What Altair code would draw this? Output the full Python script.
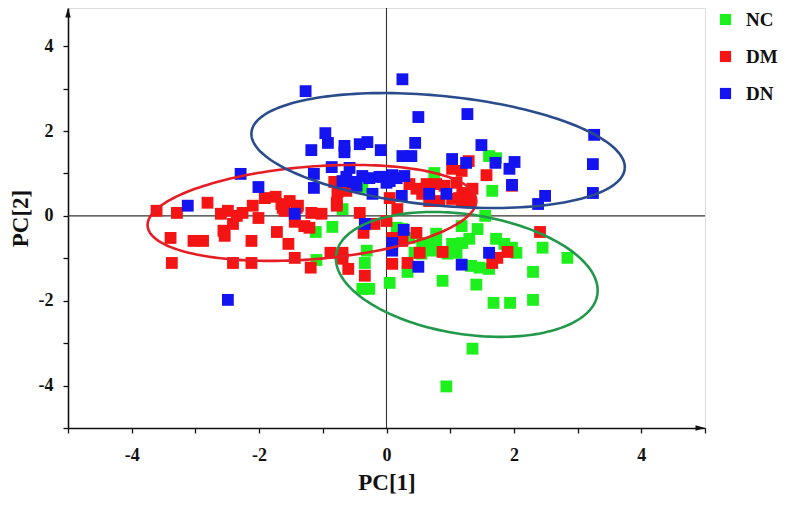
import altair as alt
import pandas as pd
import numpy as np

# ---- data ----
groups = ["NC", "DM", "DN"]
point_colors = ["#1EF01E", "#F51414", "#1414F0"]
ellipse_colors = ["#22994A", "#E41E24", "#2B4C8C"]

nc_x = [-0.69, -0.85, -1.11, -1.10, -0.31, -0.34, -0.38, -0.27, 0.05, 0.16,
        0.75, 1.61, 1.72, 1.66, 1.55, 1.43, 1.18, 0.78, 0.25, 0.63,
        0.71, 0.55, 0.44, 1.03, 1.19, 1.10, 0.96, 1.72, 1.85, 1.97,
        2.04, 1.33, 1.46, 1.61, 0.33, 0.88, 1.41, 1.68, 1.94, 2.30,
        2.30, 2.45, 2.84, 1.35, 0.94, 1.30, 0.78, 0.56, 0.36, -0.38]
nc_y = [0.16, -0.26, -0.38, -1.04, -0.82, -1.11, -1.72, -1.72, -1.58, -0.28,
        1.01, 1.41, 1.36, 0.59, 0.00, -0.31, -0.24, -0.42, -0.31, -0.64,
        -0.82, -0.89, -0.87, -0.66, -0.64, -0.87, -0.89, -0.54, -0.66, -0.75,
        -0.87, -1.18, -1.22, -1.25, -1.32, -1.53, -1.62, -2.05, -2.05, -1.98,
        -1.32, -0.75, -0.99, -3.13, -4.02, -0.54, -0.59, -0.66, -0.52, 0.68]

dm_x = [-3.61, -3.29, -2.81, -2.60, -2.49, -2.35, -2.26, -2.10, -2.01, -1.91,
        -1.74, -1.63, -1.52, -1.39, -1.18, -1.02, -0.82, -0.78, -0.77, -0.63,
        -0.42, -2.41, -2.56, -1.72, -1.44, -1.21, -3.39, -3.03, -2.88, -2.12,
        -1.54, -3.37, -2.41, -2.12, -1.44, -1.19, -0.88, -0.69, -0.69, -0.60,
        -0.34, -0.36, -0.19, -1.65, -1.41, -1.29, -0.78, -2.54, 1.29, 1.03,
        1.18, 1.57, 0.36, 0.47, 0.63, 0.78, 0.91, 1.10, 1.19, 1.30,
        1.30, 1.18, 1.03, 0.83, 0.67, 0.56, 0.05, 0.17, 0.00, 0.47,
        2.41, 0.25, 0.09, 1.90, 1.74, 1.66, 0.88, 0.52, 0.33, 0.09,
        1.97, -1.60, 1.35, 1.14]
dm_y = [0.12, 0.07, 0.31, 0.05, 0.12, 0.00, 0.07, 0.24, -0.05, 0.42,
        0.45, 0.19, 0.35, 0.24, 0.07, 0.05, 0.80, 0.31, 0.56, 0.59,
        0.07, -0.19, -0.35, -0.38, -0.14, -0.28, -0.52, -0.59, -0.59, -0.59,
        -0.66, -1.11, -1.11, -1.11, -0.99, -1.22, -0.87, -0.87, -1.01, -1.25,
        -1.41, -0.40, -0.19, 0.28, 0.19, -0.24, 0.24, -0.47, 1.29, 1.11,
        1.06, 0.96, 0.75, 0.64, 0.75, 0.75, 0.71, 0.78, 0.54, 0.52,
        0.35, 0.35, 0.40, 0.35, 0.35, 0.52, 0.42, 0.16, -0.12, -0.40,
        -0.38, -0.59, -0.52, -0.85, -0.99, -1.11, -0.85, -0.87, -1.11, -1.13,
        0.71, 0.12, 0.64, 0.42]

dn_x = [-1.27, -0.96, -0.92, -1.18, -0.66, -0.66, -0.42, -0.30, -0.09, -0.86,
        -0.58, -1.14, -2.29, -2.01, -1.14, -3.12, -1.44, -2.49, -0.63, -0.53,
        -0.47, -0.69, -0.38, -0.27, -0.11, 0.05, -0.22, 0.16, 0.25, 0.50,
        1.27, 0.45, 0.25, 0.39, 1.49, 1.03, 1.25, 1.71, 2.01, 1.93,
        1.97, 3.26, 3.24, 3.24, 2.49, 2.38, 0.24, 0.67, 0.94, 0.09,
        0.28, -0.06, 0.00, -0.34, 0.27, 0.09, 0.09, 0.50, 1.18, 1.61]
dn_y = [2.94, 1.95, 1.72, 1.55, 1.65, 1.50, 1.69, 1.74, 1.55, 1.15,
        1.13, 0.99, 0.99, 0.68, 0.66, 0.24, 0.05, -1.98, 0.92, 0.80,
        0.71, 0.82, 0.94, 0.89, 0.92, 0.82, 0.52, 0.89, 3.22, 2.33,
        2.40, 1.72, 1.41, 1.41, 1.67, 1.34, 1.25, 1.25, 1.27, 1.11,
        0.73, 1.91, 1.22, 0.54, 0.47, 0.28, 0.47, 0.52, 0.52, 0.96,
        0.94, 0.92, 0.78, -0.19, -0.33, -0.64, -0.82, -1.20, -1.15, -0.87]

# confidence ellipses: centre and two conjugate half-axis vectors (data units)
ell_cx = [1.26, -1.17, 0.81]
ell_cy = [-1.38, 0.07, 1.54]
ell_ux = [2.05, 2.58, 2.93]
ell_uy = [-0.476, 0.31, -0.43]
ell_vx = [0.144, -0.058, 0.083]
ell_vy = [1.393, 1.088, 1.285]

x_domain = [-5, 5]
y_domain = [-5, 4.9]
x_ticks = list(range(-5, 6))
y_ticks = list(range(-5, 5))

# ---- build tables ----
pts = pd.concat([
    pd.DataFrame({"x": nc_x, "y": nc_y, "group": "NC"}),
    pd.DataFrame({"x": dm_x, "y": dm_y, "group": "DM"}),
    pd.DataFrame({"x": dn_x, "y": dn_y, "group": "DN"}),
], ignore_index=True)
pts["ord"] = range(len(pts))

t = np.linspace(0, 2 * np.pi, 181)
ell_frames = []
for i, g in enumerate(groups):
    ell_frames.append(pd.DataFrame({
        "x": ell_cx[i] + np.cos(t) * ell_ux[i] + np.sin(t) * ell_vx[i],
        "y": ell_cy[i] + np.cos(t) * ell_uy[i] + np.sin(t) * ell_vy[i],
        "i": np.arange(len(t)),
        "group": g,
    }))

FONT = "Liberation Serif"

xs = alt.Scale(domain=x_domain, nice=False, zero=False)
ys = alt.Scale(domain=y_domain, nice=False, zero=False)

label_expr = "datum.value % 2 == 0 ? '' + datum.value : ''"

x_axis = alt.Axis(values=x_ticks, labelExpr=label_expr, grid=False,
                  tickSize=5, tickColor="#111", tickWidth=1.3,
                  domainColor="#111", domainWidth=1.6,
                  labelFont=FONT, labelFontSize=18, labelFontWeight="bold",
                  labelColor="#111", labelPadding=13, labelFlush=False,
                  title="PC[1]", titleFont=FONT, titleFontSize=23,
                  titleFontWeight="bold", titleColor="#111", titlePadding=7)
y_axis = alt.Axis(values=y_ticks, labelExpr=label_expr, grid=False,
                  tickSize=5, tickColor="#111", tickWidth=1.3,
                  domainColor="#111", domainWidth=1.6,
                  labelFont=FONT, labelFontSize=18, labelFontWeight="bold",
                  labelColor="#111", labelPadding=10, labelFlush=False,
                  title="PC[2]", titleFont=FONT, titleFontSize=23,
                  titleFontWeight="bold", titleColor="#111", titlePadding=6)

base_axes = alt.Chart(pd.DataFrame({"x": x_domain, "y": [y_domain[0], y_domain[0]]})).mark_point(opacity=0).encode(
    x=alt.X("x:Q", scale=xs, axis=x_axis),
    y=alt.Y("y:Q", scale=ys, axis=y_axis),
)

vline = alt.Chart(pd.DataFrame({"x": [0]})).mark_rule(color="#333", strokeWidth=1.1).encode(
    x=alt.X("x:Q", scale=xs))
hline = alt.Chart(pd.DataFrame({"y": [0]})).mark_rule(color="#333", strokeWidth=1.1).encode(
    y=alt.Y("y:Q", scale=ys))

points = alt.Chart(pts).mark_square(size=140, opacity=1, filled=True).encode(
    x=alt.X("x:Q", scale=xs),
    y=alt.Y("y:Q", scale=ys),
    order=alt.Order("ord:Q"),
    color=alt.Color("group:N", scale=alt.Scale(domain=groups, range=point_colors),
                    legend=alt.Legend(title=None, orient="none", legendX=648, legendY=2,
                                      symbolType="square", symbolSize=125,
                                      symbolStrokeWidth=0, symbolOpacity=1,
                                      labelFont=FONT, labelFontSize=19,
                                      labelFontWeight="bold", labelColor="#111",
                                      labelOffset=11, rowPadding=17, padding=0)),
)

ellipses = [
    alt.Chart(ell_frames[i]).mark_line(color=ellipse_colors[i], strokeWidth=2.6).encode(
        x=alt.X("x:Q", scale=xs),
        y=alt.Y("y:Q", scale=ys),
        order=alt.Order("i:Q"),
    )
    for i in range(3)
]

arrow_up = alt.Chart(pd.DataFrame({"x": [x_domain[0]], "y": [y_domain[1]]})).mark_point(
    shape="M0,0L0.55,1.9L-0.55,1.9Z", size=100, filled=True, opacity=1, color="#111").encode(
    x=alt.X("x:Q", scale=xs), y=alt.Y("y:Q", scale=ys))
arrow_right = alt.Chart(pd.DataFrame({"x": [x_domain[1]], "y": [y_domain[0]]})).mark_point(
    shape="M0,0L-1.9,-0.55L-1.9,0.55Z", size=100, filled=True, opacity=1, color="#111").encode(
    x=alt.X("x:Q", scale=xs), y=alt.Y("y:Q", scale=ys))

chart = alt.layer(base_axes, vline, hline, points, *ellipses, arrow_up, arrow_right).properties(
    width=637, height=420,
    autosize=alt.AutoSizeParams(type="none"),
    padding={"left": 60, "top": 0, "right": 74, "bottom": 68},
).configure_view(stroke=None).configure(background="white")

chart.save("out.html", embed_options={"renderer": "svg", "actions": False})
